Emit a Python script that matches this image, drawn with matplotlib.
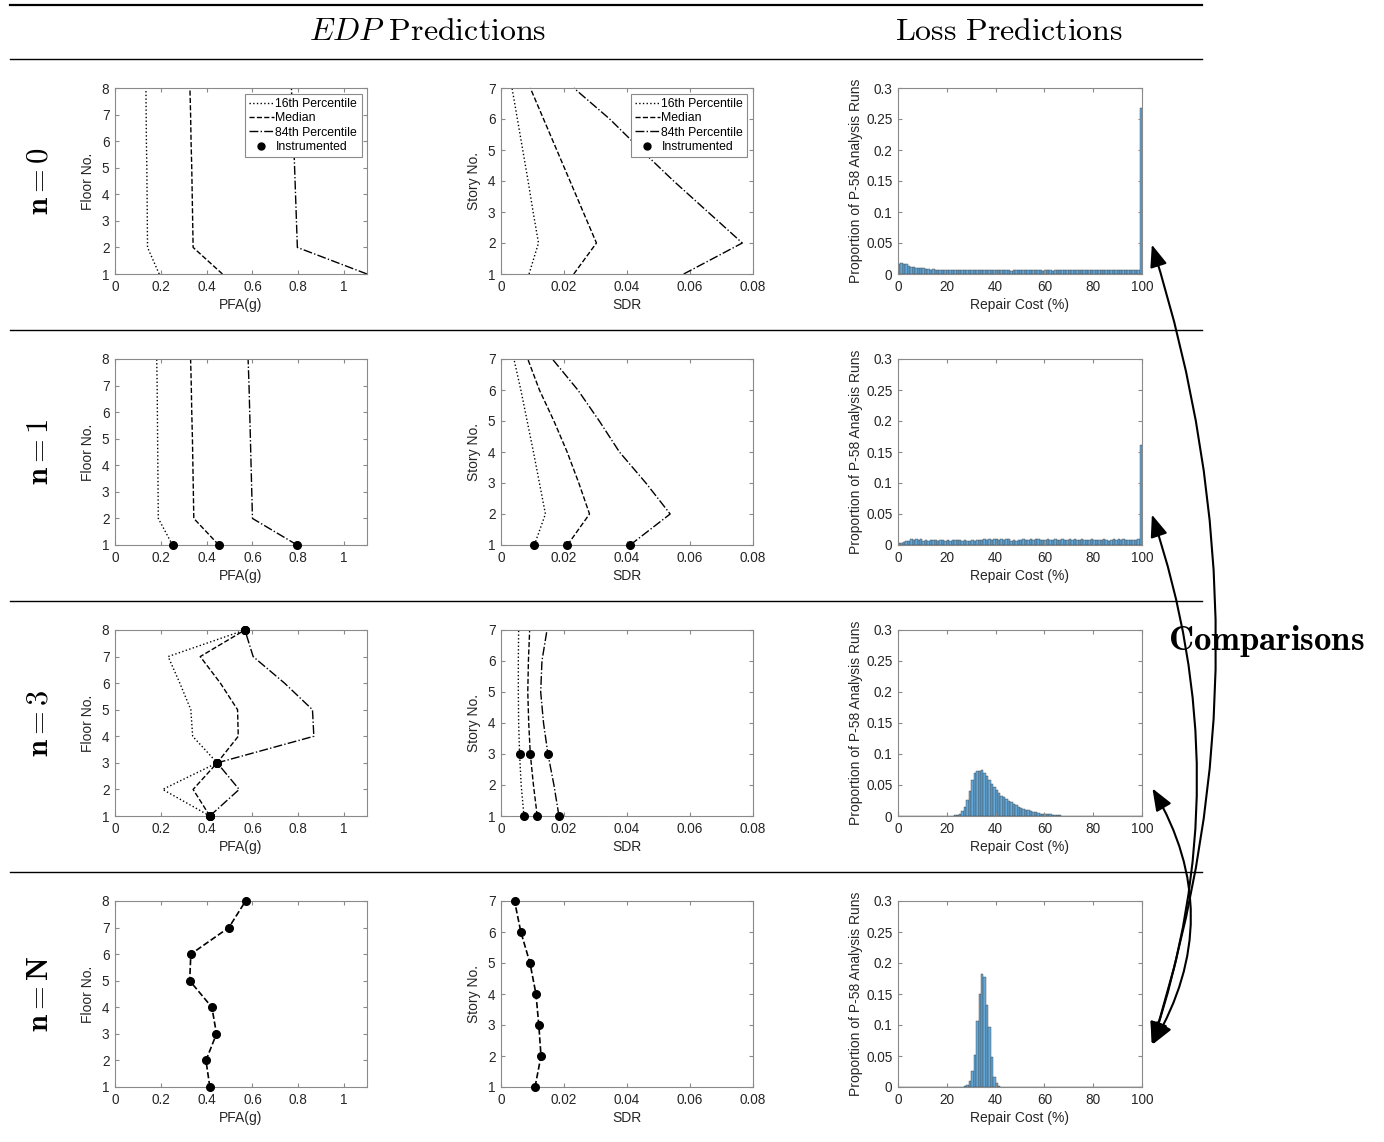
#!/usr/bin/env python3
"""
EDP + LOSS PREDICTIONS · updating with n instrumented floors
------------------------------------------------------------
PFA / SDR percentile profiles (left) and P-58 repair-cost histograms (right)
for n = 0, 1, 3 and N instrumented floors.
"""

import numpy as np
import matplotlib.pyplot as plt
from matplotlib.lines import Line2D
from matplotlib.patches import FancyArrowPatch
from matplotlib.ticker import FuncFormatter

plt.rcParams["font.family"] = ["Liberation Sans", "DejaVu Sans"]
plt.rcParams["mathtext.fontset"] = "cm"

W, H = 1384, 1142
FIG = "out.png"

# ------------------------------------------------------------------ #
# 1 · DATA                                                           #
# ------------------------------------------------------------------ #
ROW_LABELS = ["0", "1", "3", "N"]
FLOORS = [1, 2, 3, 4, 5, 6, 7, 8]
STORIES = [1, 2, 3, 4, 5, 6, 7]

# peak floor acceleration (g), floors 1..8
pfa_p16 = [
    [0.193, 0.142, 0.141, 0.140, 0.139, 0.137, 0.136, 0.135],
    [0.251, 0.189, 0.188, 0.187, 0.186, 0.185, 0.184, 0.182],
    [0.414, 0.208, 0.446, 0.339, 0.331, 0.283, 0.232, 0.567],
    None,
]
pfa_med = [
    [0.469, 0.341, 0.339, 0.337, 0.335, 0.332, 0.330, 0.327],
    [0.453, 0.344, 0.342, 0.340, 0.338, 0.335, 0.333, 0.330],
    [0.414, 0.341, 0.446, 0.538, 0.535, 0.460, 0.372, 0.567],
    [0.414, 0.397, 0.443, 0.423, 0.326, 0.331, 0.497, 0.570],
]
pfa_p84 = [
    [1.100, 0.796, 0.792, 0.788, 0.784, 0.780, 0.775, 0.770],
    [0.795, 0.600, 0.597, 0.594, 0.591, 0.588, 0.585, 0.581],
    [0.414, 0.542, 0.446, 0.868, 0.862, 0.740, 0.603, 0.567],
    None,
]
pfa_inst = [[], [1], [1, 3, 8], FLOORS]

# story drift ratio, stories 1..7
sdr_p16 = [
    [0.0089, 0.0119, 0.0102, 0.0086, 0.0069, 0.0052, 0.0035],
    [0.0106, 0.0141, 0.0122, 0.0103, 0.0083, 0.0063, 0.0041],
    [0.0073, 0.0064, 0.0059, 0.0056, 0.0055, 0.0055, 0.0056],
    None,
]
sdr_med = [
    [0.0231, 0.0303, 0.0261, 0.0219, 0.0177, 0.0135, 0.0093],
    [0.0211, 0.0281, 0.0247, 0.0210, 0.0168, 0.0122, 0.0085],
    [0.0115, 0.0103, 0.0093, 0.0088, 0.0085, 0.0087, 0.0091],
    [0.0108, 0.0127, 0.0120, 0.0111, 0.0092, 0.0063, 0.0043],
]
sdr_p84 = [
    [0.0580, 0.0766, 0.0657, 0.0548, 0.0445, 0.0345, 0.0231],
    [0.0410, 0.0537, 0.0460, 0.0376, 0.0312, 0.0244, 0.0163],
    [0.0184, 0.0168, 0.0149, 0.0135, 0.0126, 0.0130, 0.0146],
    None,
]
sdr_inst = [[], [1], [1, 3], STORIES]

# repair cost histograms, 1 % bins from 0 to 100
cost_edges = np.arange(0, 101, 1)
hist_n0 = [
    0.016, 0.017, 0.016, 0.016, 0.013, 0.011, 0.011, 0.010, 0.010, 0.009,
    0.009, 0.008, 0.008, 0.007, 0.008, 0.007, 0.006, 0.007, 0.006, 0.006,
    0.007, 0.006, 0.007, 0.006, 0.006, 0.006, 0.007, 0.006, 0.006, 0.006,
    0.006, 0.007, 0.006, 0.007, 0.007, 0.006, 0.006, 0.007, 0.006, 0.006,
    0.006, 0.006, 0.006, 0.006, 0.006, 0.006, 0.005, 0.006, 0.006, 0.006,
    0.006, 0.007, 0.006, 0.006, 0.007, 0.006, 0.006, 0.007, 0.006, 0.005,
    0.006, 0.006, 0.006, 0.005, 0.006, 0.006, 0.007, 0.006, 0.006, 0.006,
    0.007, 0.006, 0.006, 0.006, 0.006, 0.006, 0.006, 0.006, 0.006, 0.007,
    0.007, 0.006, 0.006, 0.007, 0.006, 0.006, 0.007, 0.006, 0.006, 0.007,
    0.006, 0.007, 0.006, 0.007, 0.006, 0.006, 0.007, 0.007, 0.007, 0.268,
]
hist_n1 = [
    0.003, 0.004, 0.005, 0.006, 0.007, 0.009, 0.008, 0.009, 0.008, 0.009,
    0.007, 0.008, 0.007, 0.008, 0.008, 0.008, 0.007, 0.008, 0.008, 0.007,
    0.008, 0.007, 0.008, 0.008, 0.008, 0.008, 0.007, 0.008, 0.007, 0.007,
    0.008, 0.007, 0.008, 0.008, 0.008, 0.009, 0.008, 0.009, 0.008, 0.009,
    0.009, 0.008, 0.009, 0.008, 0.009, 0.009, 0.007, 0.008, 0.007, 0.008,
    0.008, 0.009, 0.008, 0.008, 0.009, 0.008, 0.009, 0.009, 0.008, 0.008,
    0.008, 0.009, 0.008, 0.008, 0.009, 0.008, 0.008, 0.009, 0.008, 0.008,
    0.009, 0.008, 0.009, 0.008, 0.008, 0.009, 0.008, 0.008, 0.008, 0.009,
    0.008, 0.008, 0.008, 0.008, 0.009, 0.008, 0.007, 0.008, 0.009, 0.008,
    0.009, 0.008, 0.009, 0.008, 0.008, 0.008, 0.008, 0.008, 0.009, 0.161,
]
hist_n3 = [0.0] * 22 + [
    0.0005, 0.001, 0.002, 0.004, 0.008, 0.015, 0.026, 0.041, 0.058, 0.069,
    0.072, 0.073, 0.075, 0.070, 0.064, 0.058, 0.052, 0.046, 0.042, 0.037,
    0.033, 0.031, 0.028, 0.025, 0.022, 0.020, 0.017, 0.015, 0.013, 0.012,
    0.010, 0.009, 0.008, 0.007, 0.006, 0.005, 0.004, 0.0035, 0.003, 0.003,
    0.0025, 0.002, 0.0015, 0.0012, 0.001, 0.0008, 0.0007, 0.0005, 0.0004,
    0.0003, 0.0003, 0.0002, 0.0002, 0.0001,
] + [0.0] * 24
hist_nN = [0.0] * 26 + [
    0.0005, 0.001, 0.003, 0.010, 0.026, 0.052, 0.107, 0.150, 0.182, 0.177,
    0.132, 0.097, 0.048, 0.016, 0.006, 0.002, 0.0005,
] + [0.0] * 57
hists = [hist_n0, hist_n1, hist_n3, hist_nN]

# ------------------------------------------------------------------ #
# 2 · STYLE HELPERS                                                  #
# ------------------------------------------------------------------ #
BOX = "#8a8a8a"
TXT = "#262626"
BAR = "#62a8da"
fmt = FuncFormatter(lambda v, pos: f"{v:g}")


def px_rect(left, top, width, height):
    """pixel box (origin top-left) -> figure fraction rect"""
    return [left / W, 1 - (top + height) / H, width / W, height / H]


def matlabify(ax):
    for s in ax.spines.values():
        s.set_color(BOX)
        s.set_linewidth(0.8)
    ax.tick_params(direction="in", top=True, right=True, length=3,
                   color=BOX, labelcolor=TXT, labelsize=9.8, pad=4)
    ax.xaxis.set_major_formatter(fmt)
    ax.yaxis.set_major_formatter(fmt)


def add_legend(ax):
    handles = [
        Line2D([], [], ls=":", color="k", lw=1.0),
        Line2D([], [], ls="--", color="k", lw=1.0),
        Line2D([], [], ls="-.", color="k", lw=1.0),
        Line2D([], [], ls="none", marker="o", color="k", ms=5),
    ]
    leg = ax.legend(handles, ["16th Percentile", "Median",
                              "84th Percentile", "Instrumented"],
                    loc="upper right", fontsize=8.8, handlelength=2.0,
                    handletextpad=0.15, borderpad=0.35, labelspacing=0.2,
                    fancybox=False, framealpha=1, borderaxespad=0.45)
    leg.get_frame().set_edgecolor(BOX)
    leg.get_frame().set_linewidth(0.8)


def profile(ax, levels, p16, med, p84, inst):
    if p16 is not None:
        ax.plot(p16, levels, ":", color="k", lw=1.0, clip_on=False)
        ax.plot(med, levels, "--", color="k", lw=1.0, clip_on=False)
        ax.plot(p84, levels, "-.", color="k", lw=1.0, clip_on=False)
        for i, lv in enumerate(levels):
            if lv in inst:
                for series in (p16, med, p84):
                    ax.plot(series[i], lv, "o", color="k", ms=5.5,
                            clip_on=False, zorder=5)
    else:
        ax.plot(med, levels, "--", color="k", lw=1.2, marker="o", ms=5.5,
                clip_on=False, zorder=5)


# ------------------------------------------------------------------ #
# 3 · PLOT                                                           #
# ------------------------------------------------------------------ #
fig = plt.figure(figsize=(W / 100, H / 100), dpi=100)

ROW_TOP = [88, 359, 630, 901]
AX_H = 186

for r in range(4):
    top = ROW_TOP[r]

    # --- PFA ---
    ax = fig.add_axes(px_rect(115, top, 252, AX_H))
    profile(ax, FLOORS, pfa_p16[r], pfa_med[r], pfa_p84[r], pfa_inst[r])
    ax.set_xlim(0, 1.1)
    ax.set_ylim(1, 8)
    ax.set_xticks([0, 0.2, 0.4, 0.6, 0.8, 1])
    ax.set_yticks(FLOORS)
    ax.set_xlabel("PFA(g)", fontsize=10, color=TXT, labelpad=3)
    ax.set_ylabel("Floor No.", fontsize=10, color=TXT, labelpad=5)
    matlabify(ax)
    if r == 0:
        add_legend(ax)

    # --- SDR ---
    ax = fig.add_axes(px_rect(501, top, 252, AX_H))
    profile(ax, STORIES, sdr_p16[r], sdr_med[r], sdr_p84[r], sdr_inst[r])
    ax.set_xlim(0, 0.08)
    ax.set_ylim(1, 7)
    ax.set_xticks([0, 0.02, 0.04, 0.06, 0.08])
    ax.set_yticks(STORIES)
    ax.set_xlabel("SDR", fontsize=10, color=TXT, labelpad=3)
    ax.set_ylabel("Story No.", fontsize=10, color=TXT, labelpad=5)
    matlabify(ax)
    if r == 0:
        add_legend(ax)

    # --- repair cost histogram ---
    ax = fig.add_axes(px_rect(898, top, 244, AX_H))
    ax.bar(cost_edges[:-1], hists[r], width=1, align="edge",
           color=BAR, edgecolor="#404040", linewidth=0.3)
    ax.set_xlim(0, 100)
    ax.set_ylim(0, 0.3)
    ax.set_xticks([0, 20, 40, 60, 80, 100])
    ax.set_yticks([0, 0.05, 0.1, 0.15, 0.2, 0.25, 0.3])
    ax.set_xlabel("Repair Cost (%)", fontsize=10, color=TXT, labelpad=3)
    ax.set_ylabel("Proportion of P-58 Analysis Runs", fontsize=10,
                  color=TXT, labelpad=2)
    matlabify(ax)

    # row label
    fig.text(40 / W, 1 - (top + AX_H / 2) / H,
             r"$\mathbf{n} = \mathbf{" + ROW_LABELS[r] + "}$",
             rotation=90, fontsize=22, ha="center", va="center")

# ------------------------------------------------------------------ #
# 4 · TABLE RULES, HEADERS, ARROWS                                   #
# ------------------------------------------------------------------ #
for y, lw in [(5, 1.6), (59, 1.0), (330, 1.0), (601, 1.0), (872, 1.0)]:
    fig.add_artist(Line2D([10 / W, 1202 / W], [1 - y / H, 1 - y / H],
                          transform=fig.transFigure, color="k", lw=lw))

fig.text(428 / W, 1 - 32 / H, r"$EDP\ \mathrm{Predictions}$",
         fontsize=23, ha="center", va="center")
fig.text(1009 / W, 1 - 32 / H, r"$\mathrm{Loss\ Predictions}$",
         fontsize=23, ha="center", va="center")
fig.text(1266 / W, 1 - 641 / H, r"$\mathbf{Comparisons}$",
         fontsize=25, ha="center", va="center")

start = (1151 / W, 1 - 1047 / H)
for y_end, rad in [(242, 0.16), (512, 0.17), (786, 0.30)]:
    arr = FancyArrowPatch(start, (1151 / W, 1 - y_end / H),
                          transform=fig.transFigure,
                          connectionstyle=f"arc3,rad={rad}",
                          arrowstyle="<|-|>,head_length=0.9,head_width=0.35",
                          mutation_scale=15, color="k", lw=1.5)
    fig.add_artist(arr)

fig.savefig(FIG, dpi=100)
print("Figure saved", FIG)
